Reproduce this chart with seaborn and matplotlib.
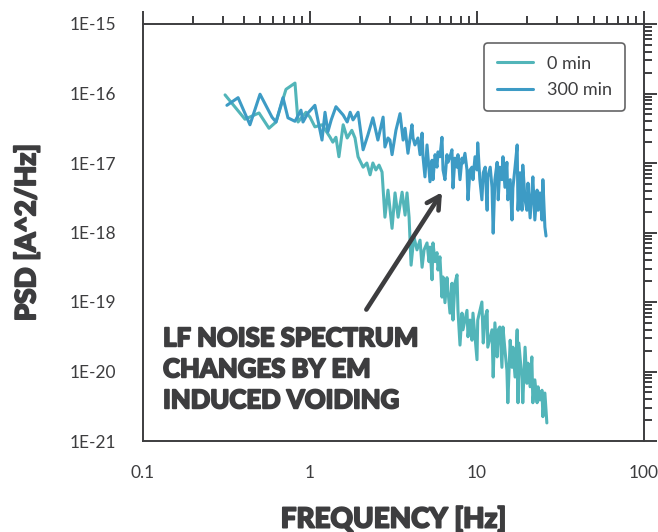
import numpy as np
import pandas as pd
import matplotlib
matplotlib.use("Agg")
from matplotlib import pyplot as plt
from matplotlib import font_manager as fm
from matplotlib import patheffects as pe
from matplotlib.ticker import LogLocator, NullFormatter
import seaborn as sns

# values (frequency in Hz, PSD as log10 of A^2/Hz)
freq_0min = [0.310, 0.408, 0.495, 0.568, 0.626, 0.718, 0.813, 0.848, 0.946, 1.00,
             1.07, 1.18, 1.32, 1.37, 1.43, 1.49, 1.58, 1.67, 1.78, 1.86,
             1.94, 2.08, 2.19, 2.29, 2.38, 2.48, 2.59, 2.70, 2.81, 2.93,
             3.10, 3.23, 3.37, 3.56, 3.71, 3.81, 3.92, 4.03, 4.19, 4.37,
             4.56, 4.69, 4.82, 5.02, 5.16, 5.23, 5.38, 5.45, 5.61, 5.76,
             5.84, 6.00, 6.17, 6.26, 6.43, 6.61, 6.70, 6.89, 7.08, 7.18,
             7.38, 7.59, 7.69, 7.91, 8.13, 8.24, 8.71, 8.83, 9.08, 9.33,
             9.46, 10.0, 10.1, 10.7, 10.9, 11.2, 11.5, 11.6, 12.3, 12.5,
             12.8, 13.2, 13.4, 13.7, 14.1, 14.3, 14.7, 15.1, 15.3, 15.8,
             16.2, 16.4, 16.9, 17.4, 17.6, 17.8, 18.6, 18.8, 19.4, 19.9,
             20.2, 20.8, 21.3, 21.6, 22.2, 22.9, 23.2, 23.8, 24.5, 24.8,
             25.5, 26.2]
logpsd_0min = [-16.02, -16.37, -16.28, -16.50, -16.41, -15.94, -15.85, -16.41, -16.27, -16.34,
               -16.48, -16.45, -16.63, -16.70, -16.63, -16.91, -16.45, -16.64, -16.53, -16.64,
               -16.91, -17.06, -17.00, -17.17, -17.00, -17.10, -17.03, -17.13, -17.78, -17.39,
               -17.94, -17.43, -17.78, -17.42, -17.75, -17.43, -17.78, -18.47, -18.06, -18.25,
               -18.11, -18.50, -18.25, -18.15, -18.42, -18.21, -18.68, -18.15, -18.42, -18.29,
               -18.54, -18.35, -18.93, -18.64, -19.01, -18.65, -18.83, -19.16, -18.73, -19.26,
               -18.73, -18.61, -19.12, -19.62, -19.16, -19.40, -19.12, -19.50, -19.26, -19.55,
               -19.16, -19.83, -19.26, -19.00, -19.59, -19.22, -19.12, -19.65, -19.40, -20.08,
               -19.30, -19.79, -19.40, -19.36, -19.94, -19.36, -19.69, -19.98, -20.45, -19.55,
               -19.94, -19.65, -20.08, -19.40, -20.45, -19.59, -20.12, -20.45, -19.65, -20.17,
               -19.88, -20.22, -19.79, -20.45, -20.12, -20.45, -20.22, -20.41, -20.27, -20.65,
               -20.31, -20.74]

freq_300min = [0.318, 0.371, 0.437, 0.502, 0.592, 0.626, 0.689, 0.738, 0.813, 0.883,
               0.908, 0.973, 1.07, 1.18, 1.23, 1.28, 1.34, 1.43, 1.58, 1.67,
               1.74, 1.81, 1.94, 2.08, 2.22, 2.38, 2.55, 2.74, 2.81, 2.93,
               3.01, 3.10, 3.27, 3.46, 3.61, 3.71, 3.86, 4.08, 4.14, 4.25,
               4.43, 4.56, 4.69, 4.75, 4.88, 5.02, 5.23, 5.38, 5.45, 5.61,
               5.76, 5.84, 6.00, 6.17, 6.26, 6.43, 6.61, 6.70, 6.89, 7.08,
               7.18, 7.38, 7.59, 7.69, 7.91, 8.13, 8.24, 8.47, 8.71, 8.83,
               9.08, 9.33, 9.46, 9.73, 10.0, 10.1, 10.4, 10.7, 10.9, 11.2,
               11.5, 11.6, 12.0, 12.3, 12.5, 12.8, 13.2, 13.4, 13.7, 14.1,
               14.3, 14.7, 15.1, 15.3, 15.8, 16.2, 16.4, 16.9, 17.4, 17.6,
               18.1, 18.6, 18.8, 19.4, 19.9, 20.2, 20.8, 21.3, 21.6, 22.2,
               22.9, 23.2, 23.8, 24.5, 24.8, 25.5, 25.9]
logpsd_300min = [-16.17, -16.06, -16.45, -16.01, -16.34, -16.41, -16.06, -16.35, -16.40, -16.24,
                 -16.41, -16.28, -16.17, -16.67, -16.27, -16.55, -16.38, -16.19, -16.31, -16.41,
                 -16.27, -16.38, -16.27, -16.81, -16.60, -16.35, -16.67, -16.34, -16.77, -16.64,
                 -16.67, -16.88, -16.53, -16.29, -16.67, -16.50, -16.86, -16.45, -16.64, -16.74,
                 -16.64, -16.88, -16.57, -16.91, -17.20, -16.74, -17.27, -16.96, -17.24, -16.88,
                 -17.06, -16.84, -16.91, -16.63, -17.10, -17.24, -16.88, -16.99, -16.91, -16.81,
                 -17.36, -16.93, -17.06, -16.88, -17.24, -16.93, -17.00, -16.86, -17.10, -17.53,
                 -17.10, -17.06, -17.24, -16.91, -17.10, -16.71, -17.24, -17.53, -17.14, -17.06,
                 -17.68, -17.20, -17.06, -17.35, -18.01, -17.24, -16.99, -17.53, -17.06, -17.24,
                 -16.91, -17.35, -16.99, -17.53, -17.24, -17.82, -17.36, -17.06, -16.74, -17.68,
                 -17.14, -17.68, -17.03, -17.53, -17.68, -17.29, -17.79, -17.43, -17.20, -17.82,
                 -17.39, -17.68, -17.43, -17.82, -17.24, -17.92, -18.05]

series_labels = ["0 min", "300 min"]
series_colors = ["#52b5b9", "#3d9bc5"]
x_ticks = [0.1, 1, 10, 100]
x_ticklabels = ["0.1", "1", "10", "100"]
y_ticks = [1e-21, 1e-20, 1e-19, 1e-18, 1e-17, 1e-16, 1e-15]
y_ticklabels = ["1E-21", "1E-20", "1E-19", "1E-18", "1E-17", "1E-16", "1E-15"]

df = pd.concat([
    pd.DataFrame({"freq": freq_0min, "psd": 10.0 ** np.array(logpsd_0min), "time": series_labels[0]}),
    pd.DataFrame({"freq": freq_300min, "psd": 10.0 ** np.array(logpsd_300min), "time": series_labels[1]}),
])

sns.set_style("white")
plt.rcParams["font.family"] = ["Lato", "DejaVu Sans"]
ink = "#3d3d3f"

# heaviest installed face for the bold captions
heavy = None
for fam in ["Lato", "Roboto", "Open Sans", "Inter", "Noto Sans", "DejaVu Sans"]:
    faces = [f for f in fm.fontManager.ttflist if f.name == fam and f.style == "normal"]
    if faces:
        best = max(faces, key=lambda f: f.weight if isinstance(f.weight, int) else 400)
        w = best.weight if isinstance(best.weight, int) else 400
        if heavy is None or w > heavy[1]:
            heavy = (best.fname, w)
        if w >= 850:
            break
heavy_font = fm.FontProperties(fname=heavy[0])
# thicken the strokes a little, the reference captions are very heavy
fatten = [pe.withStroke(linewidth=1.3, foreground=ink)]

fig = plt.figure(figsize=(6.58, 5.32), dpi=100)
ax = fig.add_axes([143 / 658, 1 - 441 / 532, 501 / 658, 417 / 532])

sns.lineplot(data=df, x="freq", y="psd", hue="time", palette=series_colors,
             estimator=None, sort=False, linewidth=2.2, ax=ax)

ax.set_xscale("log")
ax.set_yscale("log")
ax.set_xlim(0.1, 100)
ax.set_ylim(1e-21, 1e-15)
ax.set_xticks(x_ticks)
ax.set_xticklabels(x_ticklabels)
ax.set_yticks(y_ticks)
ax.set_yticklabels(y_ticklabels)
ax.xaxis.set_minor_locator(LogLocator(base=10, subs=np.arange(2, 10)))
ax.yaxis.set_minor_locator(LogLocator(base=10, subs=np.arange(2, 10)))
ax.xaxis.set_minor_formatter(NullFormatter())
ax.yaxis.set_minor_formatter(NullFormatter())

for s in ax.spines.values():
    s.set_visible(True)
    s.set_color(ink)
    s.set_linewidth(1.4)
ax.tick_params(which="both", direction="out", top=True, right=True, color=ink, width=1.4,
               labelsize=12.5, labelcolor=ink)
ax.tick_params(which="major", length=9.5)
ax.tick_params(which="minor", length=5.5)
ax.tick_params(axis="y", pad=10)
ax.tick_params(axis="x", pad=8)

ax.set_xlabel("FREQUENCY [Hz]", fontproperties=heavy_font, fontsize=20, color=ink,
              path_effects=fatten)
ax.set_ylabel("PSD [A^2/Hz]", fontproperties=heavy_font, fontsize=20, color=ink,
              path_effects=fatten)
ax.xaxis.set_label_coords(0.5, -0.155)
ax.yaxis.set_label_coords(-0.205, 0.5)

leg = ax.legend(title=None, loc="upper right", fontsize=13, frameon=True, fancybox=True,
                borderaxespad=1.05, handlelength=2.0, labelspacing=0.6, borderpad=0.7)
leg.get_frame().set_edgecolor(ink)
leg.get_frame().set_linewidth(1.2)
for t in leg.get_texts():
    t.set_color(ink)

ax.text(0.04, 0.275, "LF NOISE SPECTRUM\nCHANGES BY EM\nINDUCED VOIDING", transform=ax.transAxes,
        ha="left", va="top", fontproperties=heavy_font, fontsize=18.5, color=ink, linespacing=1.35,
        path_effects=fatten)
ax.annotate("", xy=(6.3, 4.1e-18), xytext=(2.13, 7.2e-20),
            arrowprops=dict(arrowstyle="->,head_length=0.9,head_width=0.5", color=ink, lw=3.3))

fig.savefig("out.png", dpi=100)
